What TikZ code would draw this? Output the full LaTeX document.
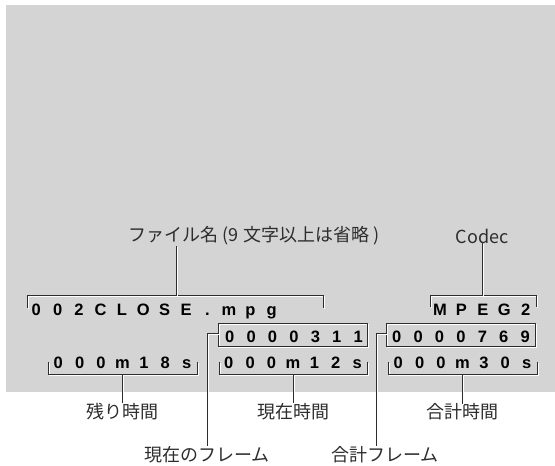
\documentclass[tikz,border=0pt]{standalone}
\usepackage{fontspec}
\setmainfont{Liberation Sans}
\newfontfamily\jpfont{Noto Sans CJK JP}
\usetikzlibrary{positioning}
\definecolor{panelGrey}{RGB}{212,212,212}
\definecolor{inkDark}{RGB}{45,45,45}
\newlength{\lcdpitch}
\setlength{\lcdpitch}{21.4pt}
\makeatletter
\newcommand{\lcdspread}[1]{\@tfor\lcdch:=#1\do{\makebox[\lcdpitch]{\lcdch}}}
\makeatother

\begin{document}
\begin{tikzpicture}[
  x=1pt, y=-1pt,
  lcd/.style={inner sep=0pt, anchor=base, font=\fontsize{16.5}{16.5}\selectfont\bfseries},
  lcdbox/.style={draw=inkDark, line width=1pt, inner sep=0pt, minimum width=149pt,
                 minimum height=23pt,
                 preaction={draw=white, transform canvas={shift={(1pt,-1pt)}}}},
  caption/.style={inner sep=0pt, text=inkDark, font=\jpfont\fontsize{18}{18}\selectfont},
  rule/.style={draw=inkDark, line width=0.9pt,
               preaction={draw=white, transform canvas={shift={(1pt,-1pt)}}}}
]
\useasboundingbox (0,0) rectangle (555,466);
\fill[panelGrey] (6,5) rectangle (555,392);

% upper captions
\node[caption] (fnamelabel) at (254,236) {ファイル名 (9 文字以上は省略 )};
\node[caption] (codeclabel) at (482,236) {Codec};

% first row
\node[lcd] (fname) at (154,315.5) {\lcdspread{002CLOSE.mpg}};
\node[lcd] (codec) at (482.8,315.5) {\lcdspread{MPEG2}};
\draw[rule] (27,308) -- (27,295) -- (323,295) -- (323,308);
\draw[rule] (430,307) -- (430,295) -- (536,295) -- (536,307);
\coordinate (fnametap) at (176,295);
\coordinate (codectap) at (482,295);
\draw[rule] (fnametap) -- (fnametap |- fnamelabel.south);
\draw[rule] (codectap) -- (codeclabel.south);

% frame counters
\node[lcdbox] (curframe) at (292.5,334.5) {};
\node[lcdbox] (totframe) at (461,334.5) {};
\node[lcd] (curframeval) at (294,342.5) {\lcdspread{0000311}};
\node[lcd] (totframeval) at (461,342.5) {\lcdspread{0000769}};

% time counters
\node[lcd] (remain) at (122.5,368.5) {\lcdspread{000m18s}};
\node[lcd] (elapsed) at (293,368.5) {\lcdspread{000m12s}};
\node[lcd] (total) at (462.5,368.5) {\lcdspread{000m30s}};
\draw[rule] (48,362) -- (48,374) -- (197,374) -- (197,362);
\draw[rule] (219,362) -- (219,374) -- (367,374) -- (367,362);
\draw[rule] (388,362) -- (388,374) -- (537,374) -- (537,362);
\coordinate (remaintap) at (122.5,374);
\coordinate (elapsedtap) at (293,374);
\coordinate (totaltap) at (462.5,374);

% lower captions
\node[caption] (remainlabel) at (122.5,412) {残り時間};
\node[caption] (elapsedlabel) at (293,412) {現在時間};
\node[caption] (totallabel) at (462.5,412) {合計時間};
\node[caption] (curframelabel) at (207,455) {現在のフレーム};
\node[caption] (totframelabel) at (385,455) {合計フレーム};
\coordinate (totframedrop) at (376,446);

\draw[rule] (remaintap) -- (remainlabel.north);
\draw[rule] (elapsedtap) -- (elapsedlabel.north);
\draw[rule] (totaltap) -- (totallabel.north);
\draw[rule] (curframe.west |- 0,333) -| (curframelabel.north);
\draw[rule] (totframe.west |- 0,333) -| (totframedrop);
\end{tikzpicture}
\end{document}
